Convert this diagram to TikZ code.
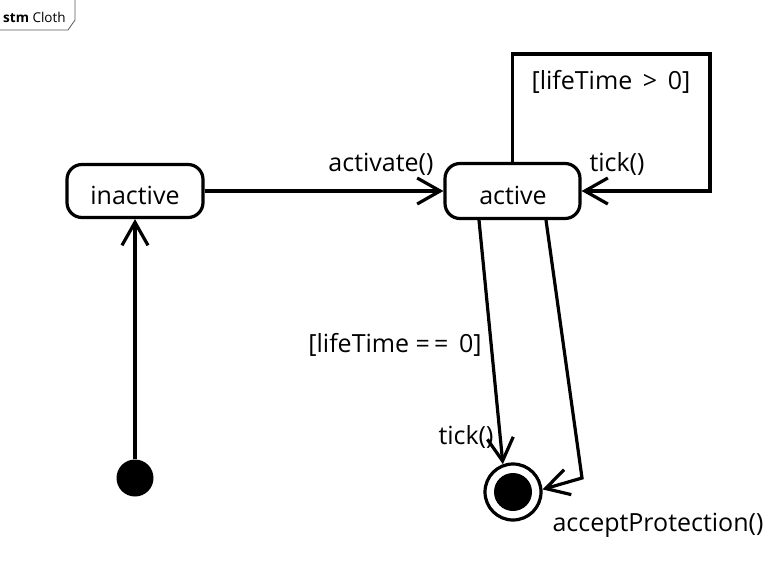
\documentclass[tikz,border=0pt]{standalone}
\usepackage{fontspec}
\setmainfont{Open Sans}
\usetikzlibrary{arrows.meta}
\begin{document}
\begin{tikzpicture}[x=1pt,y=-1pt,
  lbl/.style={inner sep=0pt,font=\fontsize{25}{30}\selectfont},
  state/.style={draw,line width=3.2pt,rounded corners=15pt,font=\fontsize{25}{30}\selectfont},
  arr/.style={line width=3.2pt,-{Straight Barb[length=23pt,width=26pt]}},
  pseudo/.style={circle,fill,inner sep=0pt,minimum size=37pt}]
\useasboundingbox (0,0) rectangle (775,561);
% frame tab
\draw[gray!70!black,line width=0.8pt] (75,0) -- (75,20) -- (68,30) -- (0,30);
\node[anchor=west,inner sep=0pt,font=\fontsize{13.5}{16}\selectfont] (title) at (3,17) {\textbf{stm} Cloth};
% states
\node[state,minimum width=136pt,minimum height=53pt] (inactive) at (135,191) {};
\node[state,minimum width=135pt,minimum height=55pt] (active) at (512.5,191) {};
\node[lbl] (tinactive) at (135,195) {inactive};
\node[lbl] (tactive) at (513,195) {active};
\node[pseudo] (init) at (135,478) {};
\node[circle,draw,line width=3.2pt,minimum size=56pt,inner sep=0pt,
  path picture={\fill (path picture bounding box.center) circle (19pt);}] (final) at (513,492) {};
\coordinate (loopA) at (710,54);
\coordinate (bendB) at (582,478);
% transitions
\draw[arr] (init) -- (inactive);
\draw[arr] (inactive) -- (active);
\draw[arr] (active.north) |- (loopA) |- (active.east);
\draw[arr] ([xshift=-33.5pt]active.south) -- (final.110);
\draw[arr] ([xshift=33.5pt]active.south) -- (bendB) -- (final.5);
% labels
\node[lbl] (l1) at (381,164) {activate()};
\node[lbl] (l2) at (611,82) {[lifeTime \,>\, 0]};
\node[lbl] (l3) at (617,164) {tick()};
\node[lbl] (l4) at (395,345) {[lifeTime =\,= \,0]};
\node[lbl] (l5) at (466,437) {tick()};
\node[lbl] (l6) at (658,525) {acceptProtection()};
\end{tikzpicture}
\end{document}
